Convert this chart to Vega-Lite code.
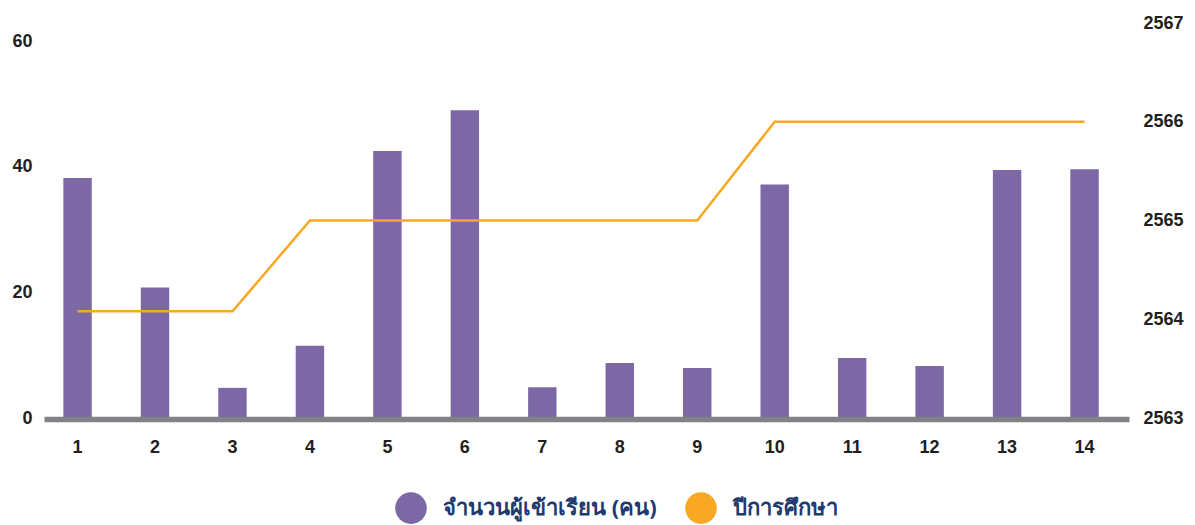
{
  "$schema": "https://vega.github.io/schema/vega-lite/v6.json",
  "autosize": {"type": "none"},
  "width": 1085,
  "height": 395,
  "padding": {"left": 44, "top": 23, "right": 66, "bottom": 107},
  "background": "white",
  "config": {
    "view": {"stroke": null},
    "axis": {"labelFont": "Liberation Sans", "labelFontWeight": "bold", "labelFontSize": 18, "labelColor": "#231f20", "ticks": false, "tickSize": 0, "grid": false, "title": null}
  },
  "data": {"values": [
    {"x": 1, "students": 38.2, "year": 2564.08},
    {"x": 2, "students": 20.8, "year": 2564.08},
    {"x": 3, "students": 4.8, "year": 2564.08},
    {"x": 4, "students": 11.5, "year": 2565},
    {"x": 5, "students": 42.5, "year": 2565},
    {"x": 6, "students": 49.0, "year": 2565},
    {"x": 7, "students": 4.9, "year": 2565},
    {"x": 8, "students": 8.75, "year": 2565},
    {"x": 9, "students": 7.96, "year": 2565},
    {"x": 10, "students": 37.2, "year": 2566},
    {"x": 11, "students": 9.55, "year": 2566},
    {"x": 12, "students": 8.3, "year": 2566},
    {"x": 13, "students": 39.5, "year": 2566},
    {"x": 14, "students": 39.6, "year": 2566}
  ]},
  "encoding": {
    "x": {
      "field": "x", "type": "ordinal",
      "scale": {"paddingInner": 0.633, "paddingOuter": 0.32, "align": 0.39},
      "axis": {"labelAngle": 0, "domainColor": "#808285", "domainWidth": 5.5, "labelPadding": 19, "labelBaseline": "top", "zindex": 1, "offset": 1}
    }
  },
  "layer": [
    {
      "mark": {"type": "bar", "color": "#7b68a5"},
      "encoding": {
        "y": {
          "field": "students", "type": "quantitative",
          "scale": {"domain": [0, 62.9], "nice": false, "zero": true},
          "axis": {"orient": "left", "values": [0, 20, 40, 60], "domain": false, "labelPadding": 12}
        },
        "color": {"datum": "จำนวนผู้เข้าเรียน (คน)", "type": "nominal"}
      }
    },
    {
      "mark": {"type": "line", "strokeWidth": 2.5, "strokeJoin": "miter"},
      "encoding": {
        "y": {
          "field": "year", "type": "quantitative",
          "scale": {"domain": [2563, 2567], "nice": false, "zero": false},
          "axis": {"orient": "right", "values": [2563, 2564, 2565, 2566, 2567], "format": "d", "domain": false, "labelPadding": 14}
        },
        "color": {
          "datum": "ปีการศึกษา", "type": "nominal",
          "scale": {"domain": ["จำนวนผู้เข้าเรียน (คน)", "ปีการศึกษา"], "range": ["#7b68a5", "#f8a823"]},
          "legend": {
            "title": null, "orient": "none", "legendX": 351, "legendY": 469, "direction": "horizontal",
            "symbolType": "circle", "symbolSize": 1000, "symbolStrokeWidth": 0,
            "labelFont": "Noto Sans", "labelFontSize": 22, "labelFontWeight": "bold", "labelColor": "#1e3a6e", "labelLimit": 500,
            "labelOffset": 16, "columnPadding": 28, "padding": 0,
            "encode": {"symbols": {"update": {"fill": {"scale": "color", "field": "value"}, "stroke": {"value": "transparent"}, "opacity": {"value": 1}}}}
          }
        }
      }
    }
  ],
  "resolve": {"scale": {"y": "independent"}}
}
